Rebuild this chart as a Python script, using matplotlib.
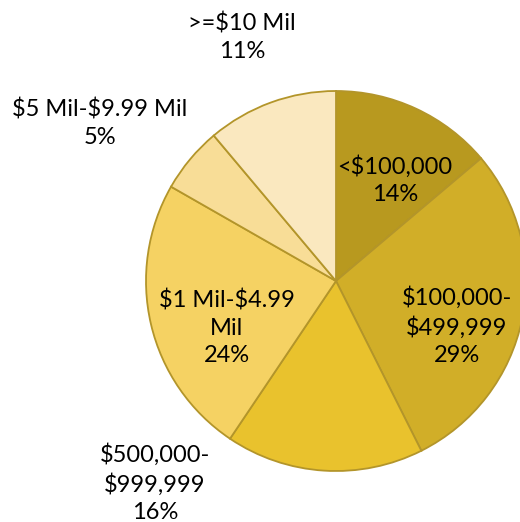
import matplotlib
matplotlib.use("Agg")
import matplotlib.pyplot as plt

categories = ["<$100,000", "$100,000-\n$499,999", "$500,000-\n$999,999",
              "$1 Mil-$4.99\nMil", "$5 Mil-$9.99 Mil", ">=$10 Mil"]
# wedge sizes, printed labels as shown
shares = [13.8, 28.7, 16.8, 23.8, 5.6, 11.1]
pct_labels = ["14%", "29%", "16%", "24%", "5%", "11%"]

colors = ["#B8991F", "#D1AE28", "#E9C22D", "#F5D263", "#F8DD97", "#FAE8BF"]
edge = "#B3952A"

# label centres in pixels of the 520x522 canvas (pie centre 336,281, r 190)
label_px = [(395, 180), (457, 326), (155, 483), (227, 328), (100, 123), (242, 37)]
cx, cy, r = 336, 281, 190

plt.rcParams["font.family"] = ["Lato", "DejaVu Sans"]
plt.rcParams["text.parse_math"] = False

fig = plt.figure(figsize=(5.2, 5.22), dpi=100)
ax = fig.add_axes([0, 0, 1, 1])
ax.pie(shares, colors=colors, startangle=90, counterclock=False,
       wedgeprops=dict(edgecolor=edge, linewidth=1.3))
ax.set_xlim(-cx / r, (520 - cx) / r)
ax.set_ylim(-(522 - cy) / r, cy / r)
ax.set_aspect("equal")
ax.axis("off")

for cat, pct, (px, py) in zip(categories, pct_labels, label_px):
    ax.text((px - cx) / r, (cy - py) / r, f"{cat}\n{pct}", ha="center",
            va="center", fontsize=17, color="black", linespacing=1.38)

fig.savefig("out.png", dpi=100)
